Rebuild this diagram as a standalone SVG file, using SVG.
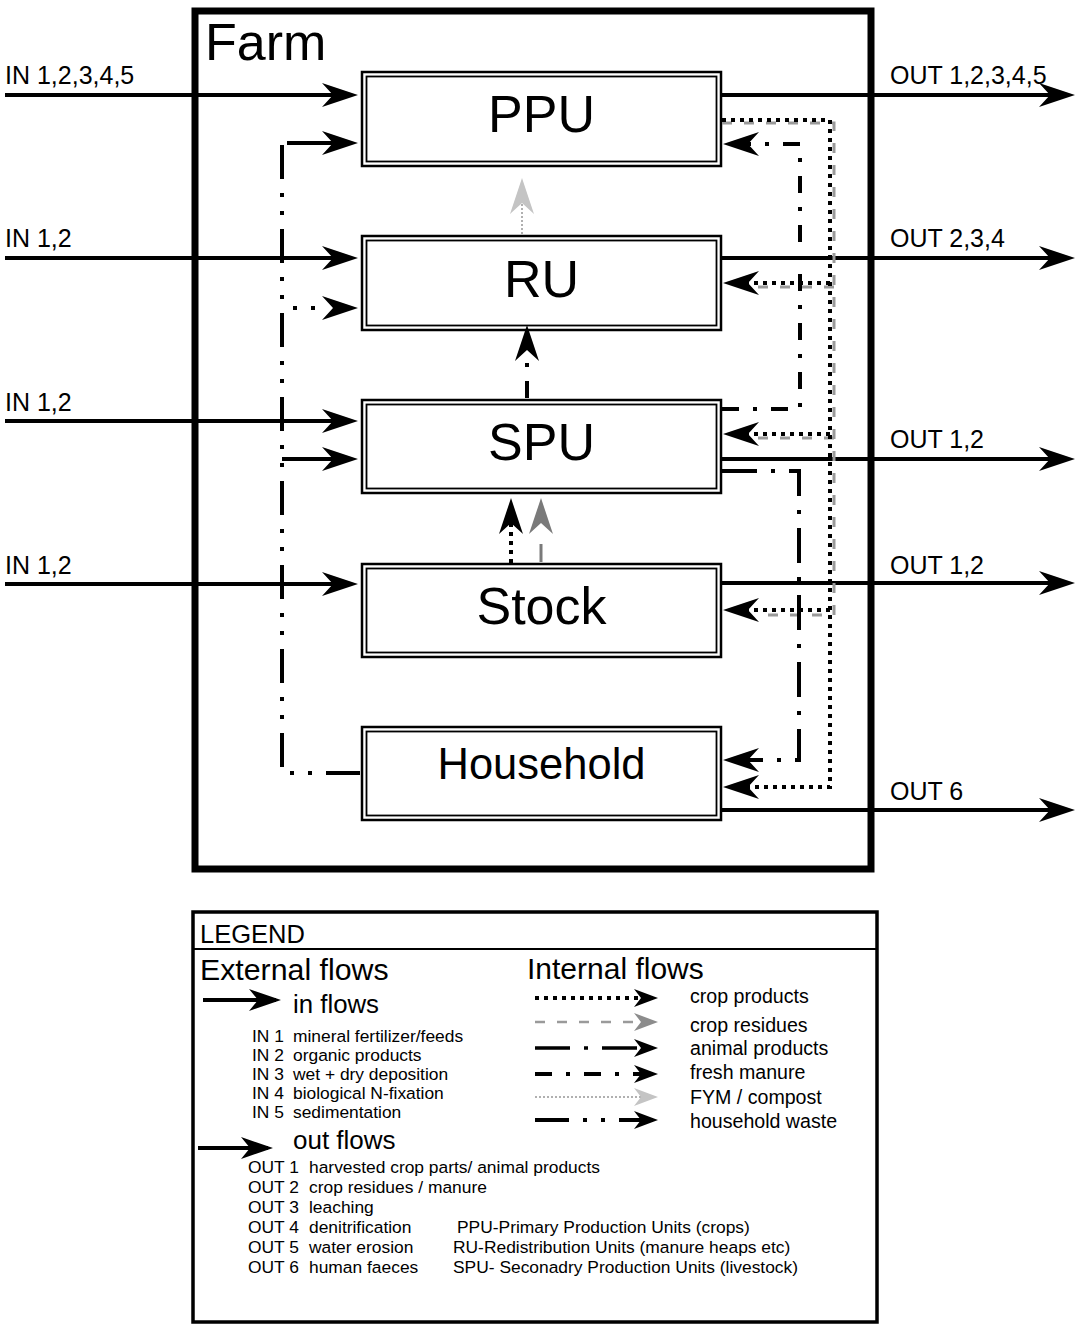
<svg xmlns="http://www.w3.org/2000/svg" width="1084" height="1325" viewBox="0 0 1084 1325">
<style>
text{font-family:"Liberation Sans",Arial,Helvetica,sans-serif;fill:#000}
.frame{fill:none;stroke:#000;stroke-width:7}
.bo{fill:#fff;stroke:#000;stroke-width:2.5}
.bi{fill:none;stroke:#000;stroke-width:1.8}
.lbl{font-size:52px;text-anchor:middle}
.lbl.hh{font-size:43.5px}
.io{font-size:25px}
.sm{font-size:17.4px}
.it{font-size:19.6px}
.ext{fill:none;stroke:#000;stroke-width:4}
.cp{fill:none;stroke:#000;stroke-width:4;stroke-dasharray:4 5}
.cr{fill:none;stroke:#9a9a9a;stroke-width:3;stroke-dasharray:10 12}
.ap{fill:none;stroke:#000;stroke-width:4;stroke-dasharray:35 14 4 14}
.fm{fill:none;stroke:#000;stroke-width:4;stroke-dasharray:17 14 4 14}
.fy{fill:none;stroke:#b0b0b0;stroke-width:2;stroke-dasharray:2 2}
.hw{fill:none;stroke:#000;stroke-width:4;stroke-dasharray:34 14 4 14 4 14}
</style>
<defs>
<marker id="ah" viewBox="0 0 36 24" refX="30" refY="12" markerWidth="36" markerHeight="24" markerUnits="userSpaceOnUse" orient="auto"><path d="M0,0 L36,12 L0,24 L11,12 Z" fill="#000"/></marker>
<marker id="ahg" viewBox="0 0 36 24" refX="30" refY="12" markerWidth="36" markerHeight="24" markerUnits="userSpaceOnUse" orient="auto"><path d="M0,0 L36,12 L0,24 L11,12 Z" fill="#7a7a7a"/></marker>
<marker id="ahl" viewBox="0 0 36 24" refX="30" refY="12" markerWidth="36" markerHeight="24" markerUnits="userSpaceOnUse" orient="auto"><path d="M0,0 L36,12 L0,24 L11,12 Z" fill="#c4c4c4"/></marker>
<marker id="ahm" viewBox="0 0 32 22" refX="27" refY="11" markerWidth="32" markerHeight="22" markerUnits="userSpaceOnUse" orient="auto"><path d="M0,0 L32,11 L0,22 L9,11 Z" fill="#000"/></marker>
<marker id="ahs" viewBox="0 0 24 18" refX="19" refY="9" markerWidth="24" markerHeight="18" markerUnits="userSpaceOnUse" orient="auto"><path d="M0,0 L24,9 L0,18 L7,9 Z" fill="#000"/></marker>
<marker id="ahsg" viewBox="0 0 24 18" refX="19" refY="9" markerWidth="24" markerHeight="18" markerUnits="userSpaceOnUse" orient="auto"><path d="M0,0 L24,9 L0,18 L7,9 Z" fill="#8c8c8c"/></marker>
<marker id="ahsl" viewBox="0 0 24 18" refX="19" refY="9" markerWidth="24" markerHeight="18" markerUnits="userSpaceOnUse" orient="auto"><path d="M0,0 L24,9 L0,18 L7,9 Z" fill="#c4c4c4"/></marker>
</defs>
<rect width="1084" height="1325" fill="#fff"/>

<g id="farm">
<rect class="frame" x="195" y="11" width="676" height="858"/>
<text x="205" y="60" font-size="52">Farm</text>
</g>

<g id="ppu">
<rect class="bo" x="362" y="72" width="359" height="94"/>
<rect class="bi" x="366.5" y="76.5" width="350" height="85"/>
<text class="lbl" x="541.5" y="132">PPU</text>
</g>
<g id="ru">
<rect class="bo" x="362" y="236" width="359" height="94"/>
<rect class="bi" x="366.5" y="240.5" width="350" height="85"/>
<text class="lbl" x="541.5" y="297">RU</text>
</g>
<g id="spu">
<rect class="bo" x="362" y="400" width="359" height="93"/>
<rect class="bi" x="366.5" y="404.5" width="350" height="84"/>
<text class="lbl" x="541.5" y="460">SPU</text>
</g>
<g id="stock">
<rect class="bo" x="362" y="564" width="359" height="93"/>
<rect class="bi" x="366.5" y="568.5" width="350" height="84"/>
<text class="lbl" x="541.5" y="624">Stock</text>
</g>
<g id="household">
<rect class="bo" x="362" y="727" width="359" height="93"/>
<rect class="bi" x="366.5" y="731.5" width="350" height="84"/>
<text class="lbl hh" x="541.5" y="779">Household</text>
</g>

<g id="io-labels" class="io">
<text x="5" y="84">IN 1,2,3,4,5</text>
<text x="5" y="247">IN 1,2</text>
<text x="5" y="411">IN 1,2</text>
<text x="5" y="574">IN 1,2</text>
<text x="890" y="84">OUT 1,2,3,4,5</text>
<text x="890" y="247">OUT 2,3,4</text>
<text x="890" y="448">OUT 1,2</text>
<text x="890" y="574">OUT 1,2</text>
<text x="890" y="800">OUT 6</text>
</g>

<g id="connectors">
<!-- external in flows -->
<path class="ext" d="M5,95 L352,95" marker-end="url(#ah)"/>
<path class="ext" d="M5,258 L352,258" marker-end="url(#ah)"/>
<path class="ext" d="M5,421 L352,421" marker-end="url(#ah)"/>
<path class="ext" d="M5,584 L352,584" marker-end="url(#ah)"/>
<!-- external out flows -->
<path class="ext" d="M722,95 L1069,95" marker-end="url(#ah)"/>
<path class="ext" d="M722,258 L1069,258" marker-end="url(#ah)"/>
<path class="ext" d="M722,459 L1069,459" marker-end="url(#ah)"/>
<path class="ext" d="M722,583 L1069,583" marker-end="url(#ah)"/>
<path class="ext" d="M722,810 L1069,810" marker-end="url(#ah)"/>

<!-- household waste (left) -->
<path class="hw" d="M360,773 L282,773 L282,143"/>
<path class="ext" d="M287,143 L352,143" marker-end="url(#ah)"/>
<path class="hw" style="stroke-dasharray:4 14 4 200" d="M293,308 L352,308" marker-end="url(#ah)"/>
<path class="ext" d="M282,459 L352,459" marker-end="url(#ah)"/>

<!-- crop residues (gray) right -->
<path class="cr" d="M722,123 L834,123 L834,615 L758,615"/>
<path class="cr" d="M834,287 L758,287"/>
<path class="cr" d="M834,438 L758,438"/>

<!-- crop products (dotted) right -->
<path class="cp" d="M722,120 L830,120 L830,787 L729,787" marker-end="url(#ah)"/>
<path class="cp" d="M830,283 L729,283" marker-end="url(#ah)"/>
<path class="cp" d="M830,434 L729,434" marker-end="url(#ah)"/>
<path class="cp" d="M830,610 L729,610" marker-end="url(#ah)"/>

<!-- fresh manure SPU -> PPU -->
<path class="fm" d="M722,409 L800,409 L800,144 L729,144" marker-end="url(#ah)"/>
<!-- animal products SPU -> Household -->
<path class="ap" d="M722,471 L799,471 L799,760 L729,760" marker-end="url(#ah)"/>

<!-- central vertical flows -->
<path class="fy" d="M522,234 L522,184" marker-end="url(#ahl)"/>
<path class="fm" d="M527,398 L527,331" marker-end="url(#ah)"/>
<path class="cp" d="M511,563 L511,504" marker-end="url(#ah)"/>
<path class="cr" style="stroke:#7a7a7a;stroke-dasharray:18 100" d="M541,562 L541,504" marker-end="url(#ahg)"/>
</g>

<g id="legend">
<rect x="193" y="912" width="684" height="410" fill="none" stroke="#000" stroke-width="3.5"/>
<path d="M193,949 L877,949" stroke="#000" stroke-width="2"/>
<text x="200" y="943" font-size="25.5">LEGEND</text>
<text x="200" y="980" font-size="30.3">External flows</text>
<text x="527" y="979" font-size="30">Internal flows</text>

<path class="ext" d="M203,1000 L276,1000" marker-end="url(#ahm)"/>
<text x="293" y="1013" font-size="25.8">in flows</text>
<g class="sm">
<text y="1042"><tspan x="252">IN 1</tspan><tspan x="293">mineral fertilizer/feeds</tspan></text>
<text y="1061"><tspan x="252">IN 2</tspan><tspan x="293">organic products</tspan></text>
<text y="1080"><tspan x="252">IN 3</tspan><tspan x="293">wet + dry deposition</tspan></text>
<text y="1099"><tspan x="252">IN 4</tspan><tspan x="293">biological N-fixation</tspan></text>
<text y="1118"><tspan x="252">IN 5</tspan><tspan x="293">sedimentation</tspan></text>
</g>

<path class="ext" d="M198,1148 L268,1148" marker-end="url(#ahm)"/>
<text x="293" y="1149" font-size="26">out flows</text>
<g class="sm">
<text y="1173"><tspan x="248">OUT 1</tspan><tspan x="309">harvested crop parts/ animal products</tspan></text>
<text y="1193"><tspan x="248">OUT 2</tspan><tspan x="309">crop residues / manure</tspan></text>
<text y="1213"><tspan x="248">OUT 3</tspan><tspan x="309">leaching</tspan></text>
<text y="1233"><tspan x="248">OUT 4</tspan><tspan x="309">denitrification</tspan><tspan x="457">PPU-Primary Production Units (crops)</tspan></text>
<text y="1253"><tspan x="248">OUT 5</tspan><tspan x="309">water erosion</tspan><tspan x="453">RU-Redistribution Units (manure heaps etc)</tspan></text>
<text y="1273"><tspan x="248">OUT 6</tspan><tspan x="309">human faeces</tspan><tspan x="453">SPU- Seconadry Production Units (livestock)</tspan></text>
</g>

<path class="cp" d="M535,998 L653,998" marker-end="url(#ahs)"/>
<path class="cr" style="stroke-width:2.5" d="M535,1022 L653,1022" marker-end="url(#ahsg)"/>
<path class="ap" style="stroke-width:3.5" d="M535,1048 L653,1048" marker-end="url(#ahs)"/>
<path class="fm" d="M535,1074 L653,1074" marker-end="url(#ahs)"/>
<path class="fy" d="M535,1097 L653,1097" marker-end="url(#ahsl)"/>
<path class="hw" d="M535,1120 L653,1120" marker-end="url(#ahs)"/>
<g class="it">
<text x="690" y="1003">crop products</text>
<text x="690" y="1032">crop residues</text>
<text x="690" y="1055">animal products</text>
<text x="690" y="1079">fresh manure</text>
<text x="690" y="1104">FYM / compost</text>
<text x="690" y="1128">household waste</text>
</g>
</g>
</svg>
